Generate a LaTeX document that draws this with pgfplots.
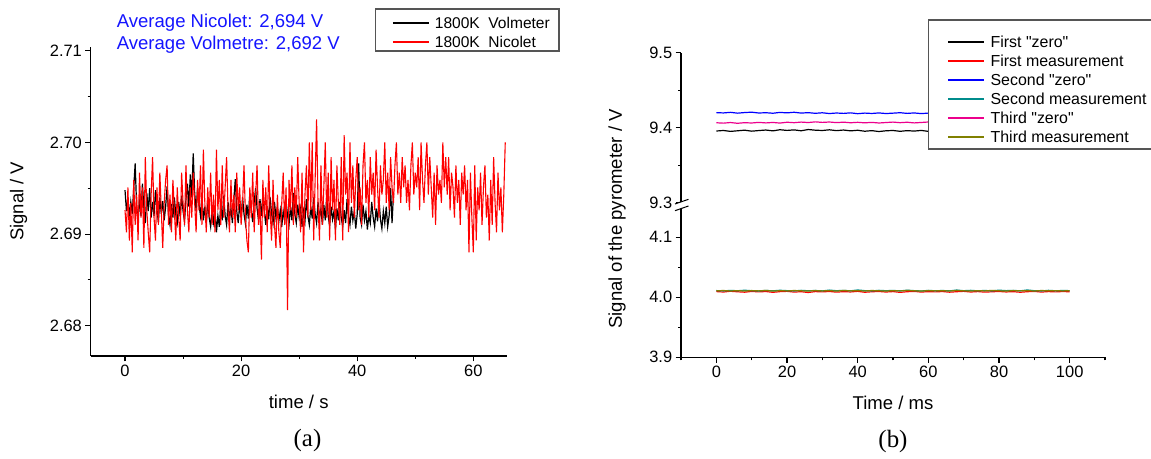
\documentclass[border=0pt]{standalone}
\usepackage{pgfplots}
\pgfplotsset{compat=1.18}
\usepackage{pgfplotstable}
\usepackage{fontspec}
\setmainfont{Liberation Sans}
\newfontfamily\lsans{Liberation Sans}
\newfontfamily\serifpanel{Liberation Serif}

\definecolor{lgray}{RGB}{85,85,85}
\definecolor{olivec}{RGB}{128,128,0}
\definecolor{tealc}{RGB}{0,140,140}
\definecolor{redc}{RGB}{255,0,0}
\definecolor{avgblue}{RGB}{20,20,255}

\pgfplotstableread{
x k b m r t o
0 9.3955 9.4200 9.4065 4.0095 4.0112 4.0108
2 9.3962 9.4196 9.4060 4.0088 4.0106 4.0113
4 9.3950 9.4204 9.4068 4.0100 4.0115 4.0105
6 9.3958 9.4193 9.4058 4.0092 4.0109 4.0111
8 9.3966 9.4201 9.4066 4.0085 4.0118 4.0104
10 9.3953 9.4206 9.4062 4.0098 4.0110 4.0112
12 9.3961 9.4195 9.4070 4.0090 4.0105 4.0107
14 9.3968 9.4199 9.4063 4.0096 4.0114 4.0115
16 9.3957 9.4192 9.4069 4.0083 4.0108 4.0103
18 9.3972 9.4203 9.4061 4.0094 4.0117 4.0110
20 9.3963 9.4197 9.4072 4.0099 4.0111 4.0106
22 9.3970 9.4205 9.4066 4.0087 4.0106 4.0113
24 9.3958 9.4194 9.4074 4.0093 4.0116 4.0108
26 9.3975 9.4200 9.4068 4.0080 4.0109 4.0104
28 9.3966 9.4191 9.4077 4.0095 4.0113 4.0112
30 9.3962 9.4198 9.4070 4.0090 4.0107 4.0106
32 9.3971 9.4188 9.4075 4.0097 4.0120 4.0111
34 9.3960 9.4195 9.4067 4.0086 4.0110 4.0103
36 9.3968 9.4190 9.4073 4.0094 4.0115 4.0114
38 9.3957 9.4197 9.4065 4.0089 4.0108 4.0107
40 9.3965 9.4186 9.4071 4.0099 4.0122 4.0110
42 9.3952 9.4194 9.4064 4.0084 4.0111 4.0105
44 9.3960 9.4189 9.4070 4.0092 4.0106 4.0113
46 9.3948 9.4196 9.4062 4.0097 4.0116 4.0108
48 9.3958 9.4188 9.4068 4.0088 4.0110 4.0104
50 9.3962 9.4193 9.4074 4.0095 4.0114 4.0111
52 9.3951 9.4199 9.4066 4.0082 4.0107 4.0106
54 9.3960 9.4190 9.4072 4.0093 4.0118 4.0114
56 9.3954 9.4196 9.4063 4.0098 4.0111 4.0109
58 9.3963 9.4187 9.4069 4.0087 4.0105 4.0103
60 9.3950 9.4194 9.4075 4.0094 4.0115 4.0112
62 9.3958 9.4189 9.4067 4.0090 4.0109 4.0107
64 9.3962 9.4197 9.4073 4.0096 4.0113 4.0110
66 9.3953 9.4186 9.4065 4.0085 4.0107 4.0105
68 9.3960 9.4192 9.4080 4.0093 4.0121 4.0113
70 9.3967 9.4198 9.4068 4.0099 4.0110 4.0108
72 9.3955 9.4189 9.4062 4.0088 4.0116 4.0104
74 9.3962 9.4195 9.4070 4.0095 4.0108 4.0111
76 9.3950 9.4186 9.4064 4.0086 4.0114 4.0106
78 9.3958 9.4193 9.4069 4.0092 4.0106 4.0115
80 9.3965 9.4199 9.4061 4.0097 4.0119 4.0108
82 9.3955 9.4190 9.4067 4.0089 4.0111 4.0103
84 9.3961 9.4196 9.4072 4.0094 4.0115 4.0112
86 9.3952 9.4188 9.4063 4.0084 4.0108 4.0107
88 9.3959 9.4194 9.4068 4.0093 4.0122 4.0110
90 9.3964 9.4191 9.4060 4.0098 4.0110 4.0105
92 9.3954 9.4197 9.4066 4.0087 4.0106 4.0113
94 9.3960 9.4189 9.4071 4.0095 4.0116 4.0108
96 9.3957 9.4195 9.4063 4.0090 4.0109 4.0111
98 9.3963 9.4192 9.4068 4.0096 4.0113 4.0106
100 9.3955 9.4196 9.4065 4.0092 4.0111 4.0110
}\pyro

\pgfplotsset{
  panel/.style={
    scale only axis,
    axis line style={line width=1.3bp, black},
    tick style={black, line width=1.1bp},
    tick align=outside,
    major tick length=5.3bp,
    minor tick length=3bp,
    tick label style={font=\fontsize{16.5}{19}\selectfont},
    /pgf/number format/assume math mode=true,
    label style={font=\fontsize{18.6}{22}\selectfont},
    scaled ticks=false,
    legend cell align=left,
    legend image code/.code={\draw[##1, line width=2bp] (0bp,0bp) -- (36bp,0bp);},
  },
}

\begin{document}
\begin{tikzpicture}[x=1bp,y=1bp]
\path[use as bounding box] (0,0) rectangle (1151,459);

% ---------------- panel (a) ----------------
\begin{axis}[panel,
  at={(90.7bp,103bp)}, anchor=south west,
  width=416bp, height=309.3bp,
  xmin=-5.91, xmax=65.75, ymin=2.6767, ymax=2.71044,
  axis x line*=bottom, axis y line*=left,
  xtick={0,20,40,60}, minor xtick={10,30,50},
  ytick={2.68,2.69,2.70,2.71}, minor ytick={2.685,2.695,2.705},
  yticklabel style={/pgf/number format/.cd, fixed, fixed zerofill, precision=2},
  xlabel={time / s},
  xlabel style={at={(axis description cs:0.5,0)}, anchor=base, yshift=-53bp},
  ylabel={Signal / V},
  ylabel style={at={(axis description cs:-0.17356,0.5)}, anchor=center},
  legend style={fill=white, draw=none, inner xsep=16bp, inner ysep=4bp,
    row sep=1.3bp, column sep=5bp,
    nodes={inner sep=0bp, text height=14.6bp, text depth=3.4bp},
    font=\fontsize{15.6}{18}\selectfont,
    at={(0.6851,1.11963)}, anchor=north west},
]
\addplot[black, line width=1.2bp] coordinates {
(0,2.6948) (0.25,2.6925) (0.5,2.6940) (0.75,2.6918) (1,2.6935) (1.25,2.6922) (1.5,2.6950) (1.75,2.6977)
(2,2.6930) (2.25,2.6915) (2.5,2.6938) (2.75,2.6920) (3,2.6955) (3.25,2.6928) (3.5,2.6912) (3.75,2.6945)
(4,2.6925) (4.25,2.6950) (4.5,2.6918) (4.75,2.6935) (5,2.6920) (5.25,2.6948) (5.5,2.6927) (5.75,2.6913)
(6,2.6940) (6.25,2.6922) (6.5,2.6936) (6.75,2.6915) (7,2.6930) (7.25,2.6952) (7.5,2.6920) (7.75,2.6910)
(8,2.6933) (8.25,2.6918) (8.5,2.6940) (8.75,2.6921) (9,2.6912) (9.25,2.6935) (9.5,2.6919) (9.75,2.6942)
(10,2.6925) (10.25,2.6914) (10.5,2.6938) (10.75,2.6955) (11,2.6930) (11.25,2.6965) (11.5,2.6940) (11.75,2.6988)
(12,2.6945) (12.25,2.6925) (12.5,2.6950) (12.75,2.6932) (13,2.6920) (13.25,2.6942) (13.5,2.6915) (13.75,2.6930)
(14,2.6912) (14.25,2.6936) (14.5,2.6918) (14.75,2.6908) (15,2.6928) (15.25,2.6913) (15.5,2.6925) (15.75,2.6902)
(16,2.6920) (16.25,2.6908) (16.5,2.6932) (16.75,2.6915) (17,2.6942) (17.25,2.6920) (17.5,2.6910) (17.75,2.6935)
(18,2.6917) (18.25,2.6928) (18.5,2.6912) (18.75,2.6938) (19,2.6960) (19.25,2.6925) (19.5,2.6912) (19.75,2.6933)
(20,2.6918) (20.25,2.6940) (20.5,2.6922) (20.75,2.6911) (21,2.6932) (21.25,2.6917) (21.5,2.6945) (21.75,2.6926)
(22,2.6913) (22.25,2.6935) (22.5,2.6950) (22.75,2.6928) (23,2.6915) (23.25,2.6938) (23.5,2.6920) (23.75,2.6942)
(24,2.6925) (24.25,2.6910) (24.5,2.6930) (24.75,2.6916) (25,2.6940) (25.25,2.6922) (25.5,2.6912) (25.75,2.6935)
(26,2.6918) (26.25,2.6930) (26.5,2.6914) (26.75,2.6926) (27,2.6908) (27.25,2.6925) (27.5,2.6915) (27.75,2.6936)
(28,2.6920) (28.25,2.6910) (28.5,2.6930) (28.75,2.6915) (29,2.6945) (29.25,2.6922) (29.5,2.6912) (29.75,2.6932)
(30,2.6918) (30.25,2.6928) (30.5,2.6908) (30.75,2.6925) (31,2.6914) (31.25,2.6938) (31.5,2.6920) (31.75,2.6910)
(32,2.6930) (32.25,2.6917) (32.5,2.6940) (32.75,2.6922) (33,2.6912) (33.25,2.6935) (33.5,2.6918) (33.75,2.6928)
(34,2.6910) (34.25,2.6932) (34.5,2.6915) (34.75,2.6942) (35,2.6920) (35.25,2.6909) (35.5,2.6930) (35.75,2.6916)
(36,2.6925) (36.25,2.6905) (36.5,2.6928) (36.75,2.6915) (37,2.6935) (37.25,2.6918) (37.5,2.6908) (37.75,2.6926)
(38,2.6912) (38.25,2.6938) (38.5,2.6920) (38.75,2.6910) (39,2.6930) (39.25,2.6915) (39.5,2.6925) (39.75,2.6906)
(40,2.6922) (40.25,2.6977) (40.5,2.6918) (40.75,2.6910) (41,2.6932) (41.25,2.6915) (41.5,2.6925) (41.75,2.6905)
(42,2.6920) (42.25,2.6912) (42.5,2.6935) (42.75,2.6918) (43,2.6908) (43.25,2.6928) (43.5,2.6914) (43.75,2.6938)
(44,2.6916) (44.25,2.6906) (44.5,2.6925) (44.75,2.6912) (45,2.6930) (45.25,2.6908) (45.5,2.6920) (45.75,2.6950)
(46,2.6912) (46.25,2.6945)
};
\addlegendentry{1800K\ \ Volmeter}
\addplot[redc, line width=1.1bp] coordinates {
(0,2.6926) (0.25,2.6902) (0.5,2.6951) (0.75,2.6893) (1,2.6934) (1.25,2.6880) (1.5,2.6959) (1.75,2.6910)
(2,2.6943) (2.25,2.6893) (2.5,2.6967) (2.75,2.6918) (3,2.6951) (3.25,2.6885) (3.5,2.6984) (3.75,2.6926)
(4,2.6902) (4.25,2.6880) (4.5,2.6943) (4.75,2.6984) (5,2.6918) (5.25,2.6893) (5.5,2.6951) (5.75,2.6910)
(6,2.6967) (6.25,2.6926) (6.5,2.6885) (6.75,2.6934) (7,2.6959) (7.25,2.6975) (7.5,2.6910) (7.75,2.6943)
(8,2.6902) (8.25,2.6959) (8.5,2.6926) (8.75,2.6893) (9,2.6951) (9.25,2.6918) (9.5,2.6893) (9.75,2.6967)
(10,2.6934) (10.25,2.6910) (10.5,2.6975) (10.75,2.6926) (11,2.6902) (11.25,2.6951) (11.5,2.6918) (11.75,2.6967)
(12,2.6934) (12.25,2.6902) (12.5,2.6959) (12.75,2.6926) (13,2.6975) (13.25,2.6910) (13.5,2.6992) (13.75,2.6934)
(14,2.6902) (14.25,2.6951) (14.5,2.6918) (14.75,2.6967) (15,2.6910) (15.25,2.6943) (15.5,2.6902) (15.75,2.6992)
(16,2.6926) (16.25,2.6959) (16.5,2.6910) (16.75,2.6975) (17,2.6918) (17.25,2.6951) (17.5,2.6984) (17.75,2.6926)
(18,2.6902) (18.25,2.6959) (18.5,2.6918) (18.75,2.6943) (19,2.6902) (19.25,2.6967) (19.5,2.6926) (19.75,2.6951)
(20,2.6910) (20.25,2.6934) (20.5,2.6975) (20.75,2.6918) (21,2.6893) (21.25,2.6880) (21.5,2.6951) (21.75,2.6918)
(22,2.6967) (22.25,2.6902) (22.5,2.6943) (22.75,2.6975) (23,2.6910) (23.25,2.6934) (23.5,2.6872) (23.75,2.6959)
(24,2.6918) (24.25,2.6951) (24.5,2.6902) (24.75,2.6975) (25,2.6926) (25.25,2.6893) (25.5,2.6959) (25.75,2.6910)
(26,2.6885) (26.25,2.6943) (26.5,2.6902) (26.75,2.6885) (27,2.6934) (27.25,2.6967) (27.5,2.6910) (27.75,2.6951)
(28,2.6817) (28.25,2.6959) (28.5,2.6926) (28.75,2.6975) (29,2.6910) (29.25,2.6951) (29.5,2.6918) (29.75,2.6984)
(30,2.6934) (30.25,2.6902) (30.5,2.6967) (30.75,2.6880) (31,2.6943) (31.25,2.6975) (31.5,2.6918) (31.75,2.7000)
(32,2.6926) (32.25,2.7000) (32.5,2.6893) (32.75,2.6959) (33,2.7025) (33.25,2.6934) (33.5,2.6893) (33.75,2.6975)
(34,2.6910) (34.25,2.6951) (34.5,2.7000) (34.75,2.6918) (35,2.6967) (35.25,2.6893) (35.5,2.6984) (35.75,2.6926)
(36,2.6959) (36.25,2.6893) (36.5,2.6975) (36.75,2.6934) (37,2.6910) (37.25,2.6984) (37.5,2.6893) (37.75,2.7008)
(38,2.6943) (38.25,2.6967) (38.5,2.6902) (38.75,2.7000) (39,2.6934) (39.25,2.6975) (39.5,2.6918) (39.75,2.6959)
(40,2.6984) (40.25,2.6926) (40.5,2.6951) (40.75,2.6910) (41,2.6975) (41.25,2.7000) (41.5,2.6934) (41.75,2.6959)
(42,2.6918) (42.25,2.6984) (42.5,2.6943) (42.75,2.6967) (43,2.6926) (43.25,2.6992) (43.5,2.6951) (43.75,2.6918)
(44,2.6975) (44.25,2.6943) (44.5,2.6959) (44.75,2.7000) (45,2.6934) (45.25,2.6967) (45.5,2.6926) (45.75,2.6984)
(46,2.6951) (46.25,2.6934) (46.5,2.6975) (46.75,2.7000) (47,2.6943) (47.25,2.6967) (47.5,2.6934) (47.75,2.6984)
(48,2.6951) (48.25,2.6975) (48.5,2.6934) (48.75,2.6959) (49,2.6926) (49.25,2.6975) (49.5,2.7000) (49.75,2.6943)
(50,2.6967) (50.25,2.6951) (50.5,2.6984) (50.75,2.6926) (51,2.7000) (51.25,2.6959) (51.5,2.6934) (51.75,2.6975)
(52,2.7000) (52.25,2.6943) (52.5,2.6984) (52.75,2.6951) (53,2.6918) (53.25,2.6967) (53.5,2.6910) (53.75,2.6975)
(54,2.6943) (54.25,2.6959) (54.5,2.6934) (54.75,2.7000) (55,2.6951) (55.25,2.6984) (55.5,2.6943) (55.75,2.6984)
(56,2.6926) (56.25,2.6967) (56.5,2.6951) (56.75,2.6918) (57,2.6975) (57.25,2.6934) (57.5,2.6959) (57.75,2.6910)
(58,2.6967) (58.25,2.6943) (58.5,2.6975) (58.75,2.6926) (59,2.6959) (59.25,2.6880) (59.5,2.6967) (59.75,2.6918)
(60,2.6880) (60.25,2.6975) (60.5,2.6893) (60.75,2.6951) (61,2.6926) (61.25,2.6967) (61.5,2.6910) (61.75,2.6951)
(62,2.6975) (62.25,2.6918) (62.5,2.6943) (62.75,2.6893) (63,2.6959) (63.25,2.6910) (63.5,2.6984) (63.75,2.6934)
(64,2.6902) (64.25,2.6967) (64.5,2.6926) (64.75,2.6951) (65,2.6902) (65.25,2.6943) (65.5,2.7000)
};
\addlegendentry{1800K\ \ Nicolet}
\end{axis}

% ---------------- panel (b): upper part ----------------
\begin{axis}[panel,
  at={(681bp,256.3bp)}, anchor=south west,
  width=424bp, height=150bp,
  xmin=-10, xmax=110, ymin=9.3, ymax=9.5,
  axis x line=none, axis y line*=left,
  ytick={9.3,9.4,9.5}, minor ytick={9.35,9.45},
  yticklabel style={/pgf/number format/.cd, fixed, fixed zerofill, precision=1},
  legend style={fill=white, draw=none, inner xsep=18.7bp, inner ysep=5bp,
    row sep=0.5bp, column sep=5.4bp,
    nodes={inner sep=0bp, text height=15bp, text depth=3.5bp},
    font=\lsans\fontsize{16}{19}\selectfont,
    at={(0.58325,1.16633)}, anchor=north west},
]
\addplot[black, line width=1.2bp] table[x=x, y=k] {\pyro};
\addlegendentry{First "zero"}
\addplot[redc, line width=1.2bp] table[x=x, y=r] {\pyro};
\addlegendentry{First measurement}
\addplot[blue, line width=1.2bp] table[x=x, y=b] {\pyro};
\addlegendentry{Second "zero"}
\addplot[tealc, line width=1.2bp] table[x=x, y=t] {\pyro};
\addlegendentry{Second measurement}
\addplot[magenta, line width=1.2bp] table[x=x, y=m] {\pyro};
\addlegendentry{Third "zero"}
\addplot[olivec, line width=1.2bp] table[x=x, y=o] {\pyro};
\addlegendentry{Third measurement}
\end{axis}

% ---------------- panel (b): lower part ----------------
\begin{axis}[panel,
  at={(681bp,101.7bp)}, anchor=south west,
  width=424bp, height=150bp,
  xmin=-10, xmax=110, ymin=3.9, ymax=4.15,
  axis x line*=bottom, axis y line*=left,
  xtick={0,20,40,60,80,100}, minor xtick={-10,10,30,50,70,90,110},
  ytick={3.9,4.0,4.1}, minor ytick={3.95,4.05},
  yticklabel style={/pgf/number format/.cd, fixed, fixed zerofill, precision=1},
  xlabel={Time / ms},
  xlabel style={at={(axis description cs:0.5,0)}, anchor=base, yshift=-52.7bp},
  ylabel={Signal of the pyrometer / V},
  ylabel style={at={(axis description cs:-0.15094,0.922)}, anchor=center},
]
\addplot[redc, line width=1.2bp] table[x=x, y=r] {\pyro};
\addplot[tealc, line width=1.2bp] table[x=x, y=t] {\pyro};
\addplot[olivec, line width=1.2bp] table[x=x, y=o] {\pyro};
\end{axis}

% axis break marks
\fill[white] (675,255) -- (688.5,259.7) -- (688.5,253) -- (675,248.3) -- cycle;
\draw[black, line width=1bp] (675,255) -- (688.5,259.7);
\draw[black, line width=1bp] (675,248.3) -- (688.5,253);

% legend frames
\draw[lgray, line width=1.2bp] (375.7,450) rectangle (559,408);
\draw[lgray, line width=1.2bp] (928.3,439) rectangle (1165,310);

% annotations
\node[anchor=base west, inner sep=0, text=avgblue, font=\fontsize{18.6}{22}\selectfont] at (116.7,431.7) {Average Nicolet: 2,694 V};
\node[anchor=base west, inner sep=0, text=avgblue, font=\fontsize{18.6}{22}\selectfont] at (116.7,409) {Average Volmetre: 2,692 V};
\node[inner sep=0, font=\serifpanel\fontsize{25}{28}\selectfont] at (307.5,18) {(a)};
\node[inner sep=0, font=\serifpanel\fontsize{25}{28}\selectfont] at (893,17) {(b)};
\end{tikzpicture}
\end{document}
